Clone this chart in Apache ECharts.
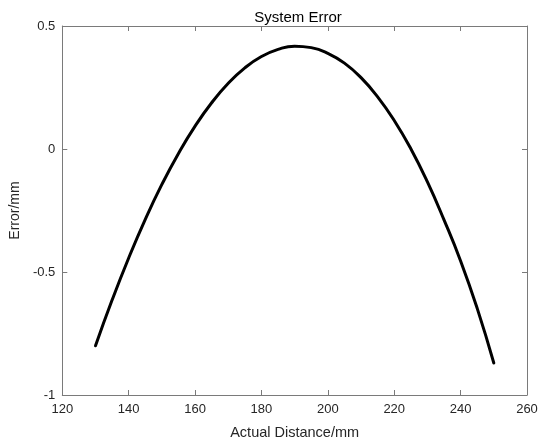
<!DOCTYPE html>
<html>
<head>
<meta charset="utf-8">
<script src="https://cdn.jsdelivr.net/npm/echarts@6/dist/echarts.min.js"></script>
<style>
html,body{margin:0;padding:0;background:#fff;}
#chart{width:550px;height:445px;}
</style>
</head>
<body>
<div id="chart"></div>
<script>
// Data
const distances = [130,135,140,145,150,155,160,165,170,175,180,185,190,195,200,205,210,215,220,225,230,235,240,245,250];
const errors = [-0.800,-0.614,-0.443,-0.286,-0.144,-0.018,0.093,0.188,0.267,0.330,0.376,0.405,0.418,0.412,0.389,0.349,0.290,0.212,0.116,0.001,-0.134,-0.288,-0.455,-0.648,-0.870];
const titleText = 'System Error';
const xName = 'Actual Distance/mm';
const yName = 'Error/mm';

const font = '"Liberation Sans", Arial, sans-serif';
const axisColor = '#7a7a7a';
const labelColor = '#262626';

const chart = echarts.init(document.getElementById('chart'), null, {renderer: 'canvas'});
const pairs = distances.map((d, i) => [d, errors[i]]);

const baseX = {
  type: 'value', min: 120, max: 260, interval: 20,
  axisLine: {show: true, onZero: false, lineStyle: {color: axisColor, width: 1}},
  axisTick: {show: true, inside: true, length: 5, lineStyle: {color: axisColor}},
  splitLine: {show: false}
};
const baseY = {
  type: 'value', min: -1, max: 0.5, interval: 0.5,
  axisLine: {show: true, onZero: false, lineStyle: {color: axisColor, width: 1}},
  axisTick: {show: true, inside: true, length: 5, lineStyle: {color: axisColor}},
  splitLine: {show: false}
};

chart.setOption({
  animation: false,
  backgroundColor: '#fff',
  title: {
    text: titleText, left: 293, top: 5, textAlign: 'center',
    textStyle: {fontFamily: font, fontSize: 15, fontWeight: 'normal', color: '#000'}
  },
  grid: {left: 59, right: 23, top: 26, bottom: 50, containLabel: false},
  xAxis: [
    Object.assign({}, baseX, {
      position: 'bottom',
      name: xName, nameLocation: 'middle', nameGap: 30,
      nameTextStyle: {fontFamily: font, fontSize: 14.5, color: labelColor},
      axisLabel: {fontFamily: font, fontSize: 13, color: labelColor, margin: 8}
    }),
    Object.assign({}, baseX, {position: 'top', axisLabel: {show: false}})
  ],
  yAxis: [
    Object.assign({}, baseY, {
      position: 'left',
      name: yName, nameLocation: 'middle', nameGap: 37,
      nameTextStyle: {fontFamily: font, fontSize: 14, color: labelColor},
      axisLabel: {fontFamily: font, fontSize: 13, color: labelColor, margin: 7}
    }),
    Object.assign({}, baseY, {position: 'right', axisLabel: {show: false}})
  ],
  series: [{
    type: 'line', data: pairs, smooth: true, showSymbol: false,
    lineStyle: {color: '#000', width: 3, cap: 'round'},
    xAxisIndex: 0, yAxisIndex: 0
  }]
});
</script>
</body>
</html>
